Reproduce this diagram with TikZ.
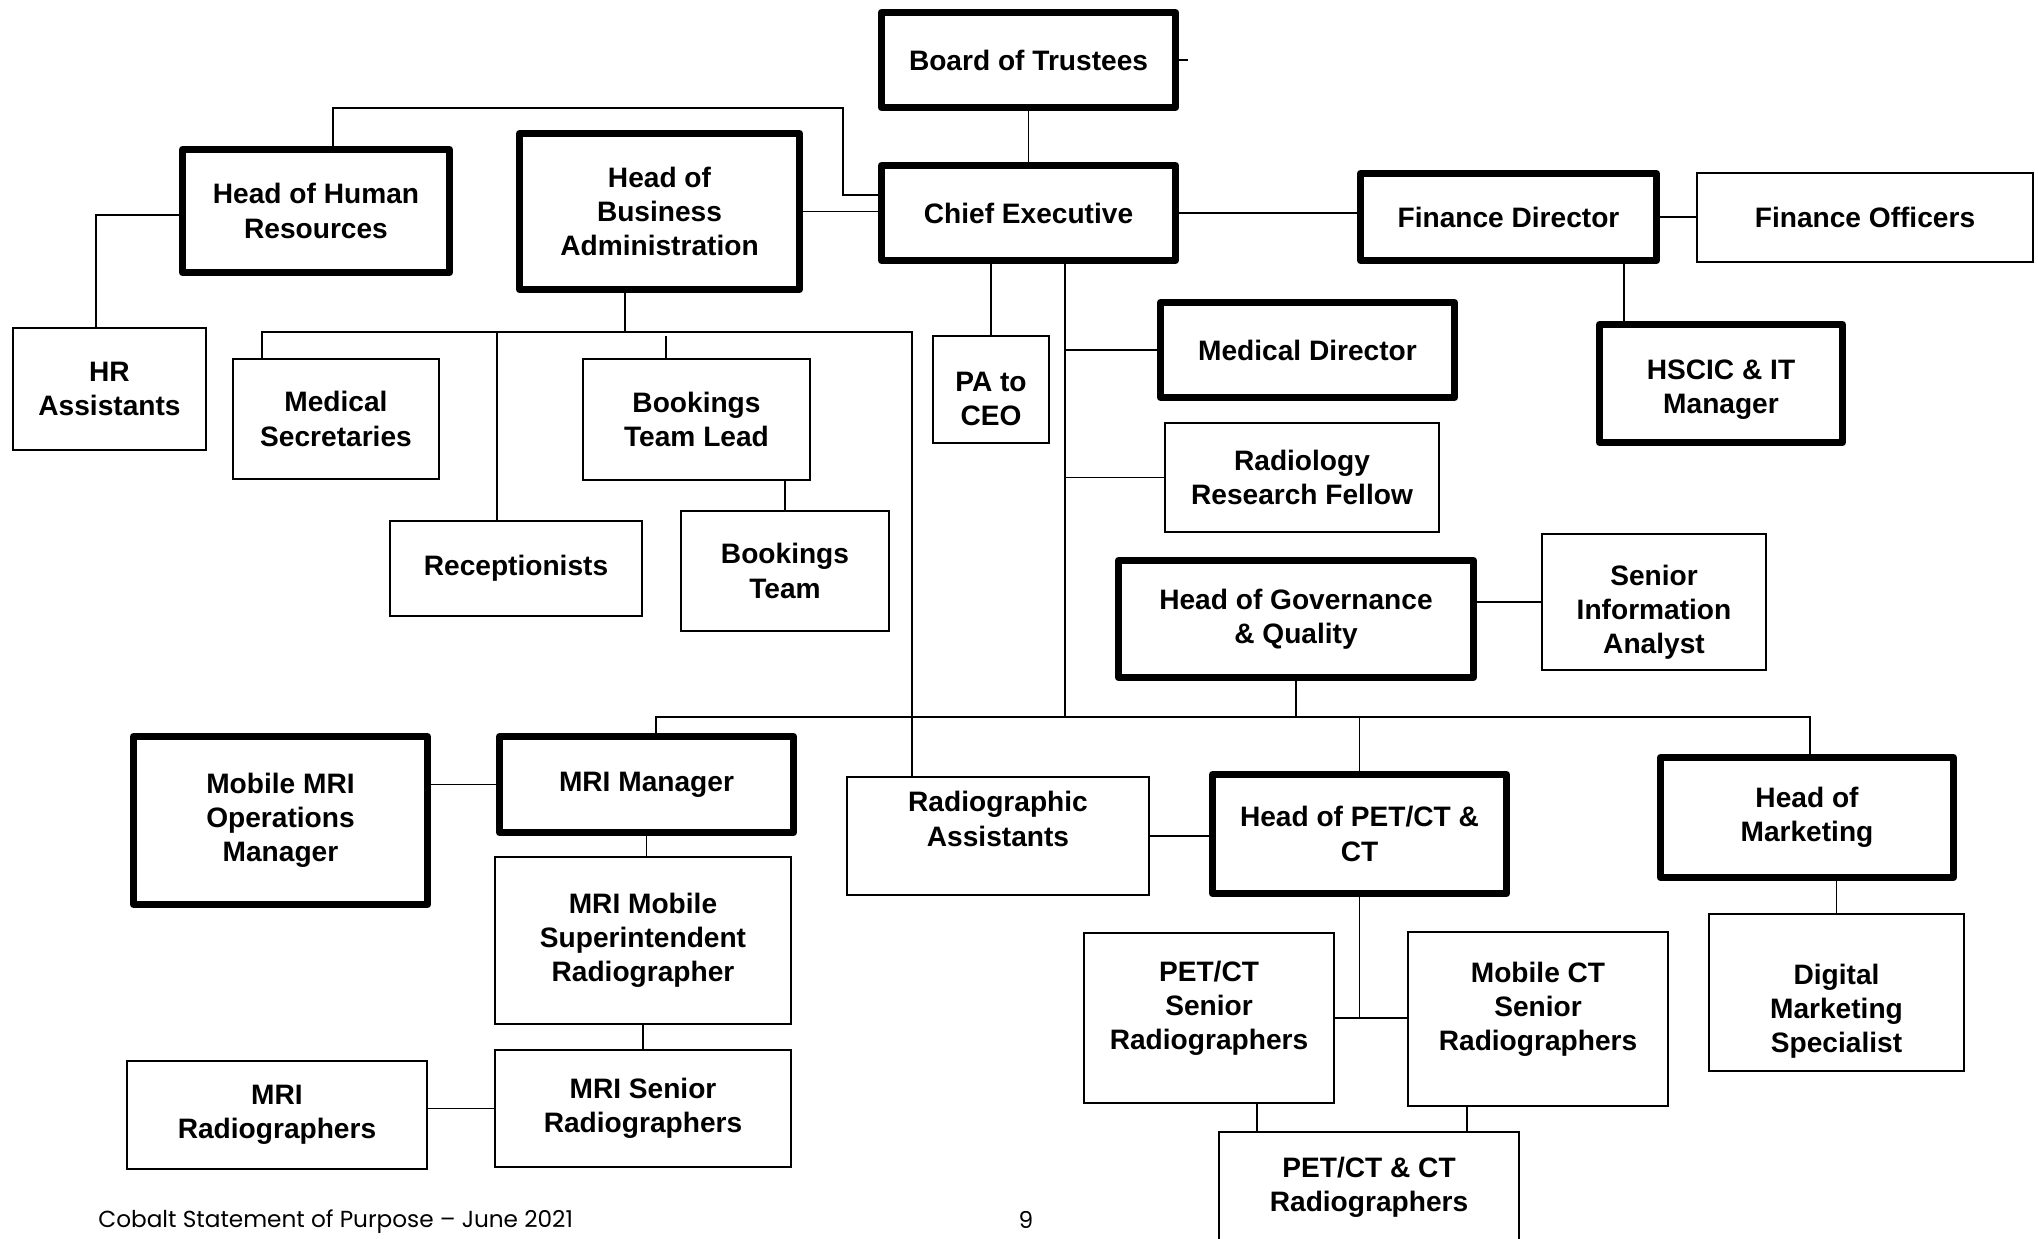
\documentclass[tikz,border=0pt]{standalone}
\usepackage{fontspec}
\setmainfont{Liberation Sans}
\newfontfamily\footfont{Poppins}
\newcommand\orgbox[8]{\node[#1, minimum width={(#6-#4-#2)*0.02cm}, minimum height={(#7-#5-#2)*0.02cm}] (#3) at ({(#4+#6)/2},{(#5+#7)/2}) {#8};}
\tikzset{
  boxtext/.style={align=center, inner sep=2pt, font=\fontsize{16}{19.5}\selectfont\bfseries},
  thickbox/.style={boxtext, draw, line width=0.14cm, line join=round},
  thinbox/.style={boxtext, draw, line width=0.04cm},
  conn/.style={line width=0.03cm},
}
\begin{document}
\begin{tikzpicture}[x=0.02cm, y=-0.02cm]
\fill[white] (0,0) rectangle (2038,1238);
\useasboundingbox (0,0) rectangle (2038,1238);
% boxes
\orgbox{thickbox}{7}{board}{878}{9}{1179}{111}{Board of Trustees}
\orgbox{thickbox}{7}{ce}{878}{162}{1179}{264}{Chief Executive}
\orgbox{thickbox}{7}{hr}{179}{146}{453}{276}{Head of Human\\Resources}
\orgbox{thickbox}{7}{hba}{516}{130}{803}{293}{Head of\\Business\\Administration}
\orgbox{thinbox}{2}{hra}{12}{327}{207}{451}{HR\\Assistants}
\orgbox{thinbox}{2}{medsec}{232}{358}{440}{480}{Medical\\Secretaries}
\orgbox{thinbox}{2}{btl}{582}{358}{811}{481}{Bookings\\Team Lead}
\orgbox{thinbox}{2}{recep}{389}{520}{643}{617}{Receptionists}
\orgbox{thinbox}{2}{bt}{680}{510}{890}{632}{Bookings\\Team}
\orgbox{thinbox}{2}{pa}{932}{335}{1050}{444}{\strut\\[-11pt]PA to\\CEO}
\orgbox{thickbox}{7}{md}{1157}{299}{1458}{401}{Medical Director}
\orgbox{thinbox}{2}{rrf}{1164}{422}{1440}{533}{Radiology\\Research Fellow}
\orgbox{thickbox}{7}{fd}{1357}{170}{1660}{264}{Finance Director}
\orgbox{thinbox}{2}{fo}{1696}{172}{2034}{263}{Finance Officers}
\orgbox{thickbox}{7}{hscic}{1596}{321}{1846}{446}{\strut\\[-15pt]HSCIC \& IT\\Manager}
\orgbox{thickbox}{7}{hgq}{1115}{557}{1477}{681}{Head of Governance\\\& Quality}
\orgbox{thinbox}{2}{sia}{1541}{533}{1767}{671}{\strut\\[-10pt]Senior\\Information\\Analyst}
\orgbox{thickbox}{7}{mmo}{130}{733}{431}{908}{Mobile MRI\\Operations\\Manager}
\orgbox{thickbox}{7}{mri}{496}{733}{797}{836}{MRI Manager}
\orgbox{thinbox}{2}{mmsr}{494}{856}{792}{1025}{MRI Mobile\\Superintendent\\Radiographer}
\orgbox{thinbox}{2}{mrs}{494}{1049}{792}{1168}{MRI Senior\\Radiographers}
\orgbox{thinbox}{2}{mrirad}{126}{1060}{428}{1170}{MRI\\Radiographers}
\orgbox{thinbox}{2}{ra}{846}{776}{1150}{896}{Radiographic\\Assistants\\\mbox{}}
\orgbox{thickbox}{7}{hpc}{1209}{771}{1510}{897}{Head of PET/CT \&\\CT}
\orgbox{thinbox}{2}{petsr}{1083}{932}{1335}{1104}{PET/CT\\Senior\\Radiographers\\[-11pt]\strut}
\orgbox{thinbox}{2}{mctsr}{1407}{931}{1669}{1107}{Mobile CT\\Senior\\Radiographers\\[-11pt]\strut}
\orgbox{thinbox}{2}{pcr}{1218}{1131}{1520}{1244}{PET/CT \& CT\\Radiographers}
\orgbox{thickbox}{7}{hom}{1657}{754}{1957}{881}{Head of\\Marketing}
\orgbox{thinbox}{2}{dms}{1708}{913}{1965}{1072}{\strut\\Digital\\Marketing\\Specialist}
% connectors
\coordinate (bstub) at (1188,60);
\draw[conn] (board.south) -- (ce.north);
\draw[conn] (board.east) -- (bstub);
\coordinate (hrce1) at (333,108);
\coordinate (hrce2) at (843,108);
\coordinate (hrce3) at (843,195);
\draw[conn] (hr.north -| hrce1) -- (hrce1) -- (hrce2) -- (hrce3) -- (ce.west |- hrce3);
\draw[conn] (hba.east) -- (hba.east -| ce.west);
\coordinate (hrac) at (96,215);
\draw[conn] (hr.west |- hrac) -- (hrac) -- (hrac |- hra.north);
\coordinate (bus0) at (625,332);
\coordinate (busL) at (262,332);
\coordinate (busR) at (912,332);
\draw[conn] (hba.south -| bus0) -- (bus0);
\draw[conn] (busL |- medsec.north) -- (busL) -- (busR) -- (busR |- ra.north);
\coordinate (busRec) at (497,332);
\draw[conn] (busRec) -- (busRec |- recep.north);
\coordinate (busBk) at (666,336);
\draw[conn] (busBk) -- (busBk |- btl.north);
\draw[conn] (bt.north) -- (bt.north |- btl.south);
\draw[conn] (pa.north |- ce.south) -- (pa.north);
\coordinate (trunk) at (1065,717);
\draw[conn] (ce.south -| trunk) -- (trunk);
\draw[conn] (trunk |- md.west) -- (md.west);
\draw[conn] (trunk |- rrf.west) -- (rrf.west);
\draw[conn] (ce.east) -- (ce.east -| fd.west);
\draw[conn] (fd.east) -- (fd.east -| fo.west);
\coordinate (hsx) at (1624,300);
\draw[conn] (fd.south -| hsx) -- (hscic.north -| hsx);
\draw[conn] (hgq.east |- sia.west) -- (sia.west);
\coordinate (mbL) at (656,717);
\coordinate (mbR) at (1810,717);
\draw[conn] (mri.north -| mbL) -- (mbL) -- (mbR) -- (mbR |- hom.north);
\draw[conn] (hgq.south) -- (hgq.south |- mbL);
\draw[conn] (hpc.north) -- (hpc.north |- mbL);
\draw[conn] (mmo.east |- mri.west) -- (mri.west);
\draw[conn] (mri.south) -- (mri.south |- mmsr.north);
\draw[conn] (mmsr.south) -- (mmsr.south |- mrs.north);
\draw[conn] (mrirad.east |- mrs.west) -- (mrs.west);
\draw[conn] (ra.east) -- (ra.east -| hpc.west);
\coordinate (pj) at (1361,1018);
\draw[conn] (hpc.south) -- (hpc.south |- pj);
\draw[conn] (petsr.east |- pj) -- (mctsr.west |- pj);
\coordinate (pc1) at (1257,1110);
\coordinate (pc2) at (1467,1110);
\draw[conn] (petsr.south -| pc1) -- (pcr.north -| pc1);
\draw[conn] (mctsr.south -| pc2) -- (pcr.north -| pc2);
\draw[conn] (dms.north) -- (dms.north |- hom.south);
% footer
\node[anchor=west, inner sep=0pt, font=\footfont\fontsize{13.2}{15}\selectfont] (footer) at (98,1222) {Cobalt Statement of Purpose – June 2021};
\node[inner sep=0pt, font=\footfont\fontsize{13.2}{15}\selectfont] (pagenum) at (1026,1220) {9};
\end{tikzpicture}
\end{document}
